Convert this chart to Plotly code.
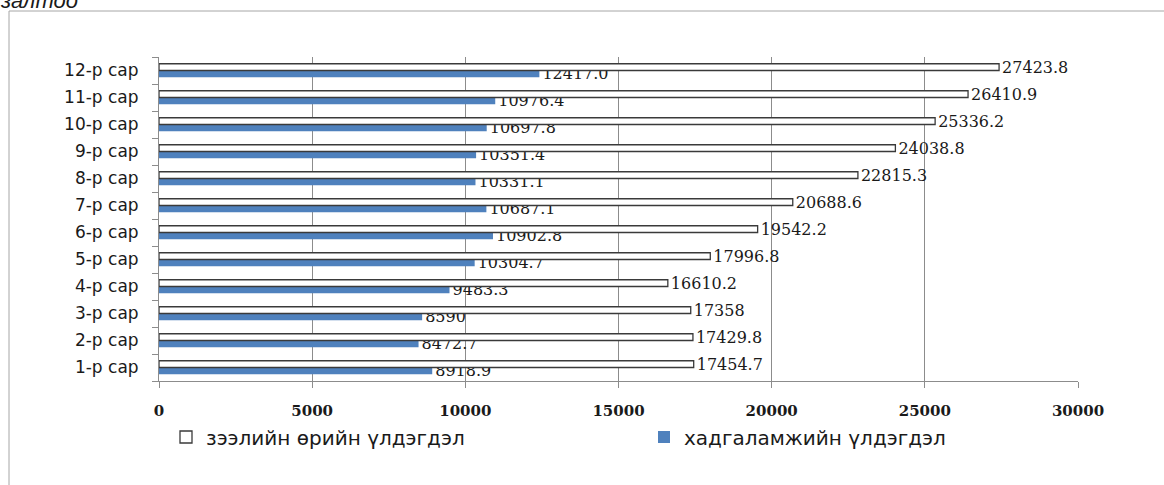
import plotly.graph_objects as go

categories = ["1-р сар", "2-р сар", "3-р сар", "4-р сар", "5-р сар", "6-р сар",
              "7-р сар", "8-р сар", "9-р сар", "10-р сар", "11-р сар", "12-р сар"]
loan_values = [17454.7, 17429.8, 17358, 16610.2, 17996.8, 19542.2,
               20688.6, 22815.3, 24038.8, 25336.2, 26410.9, 27423.8]
loan_labels = ["17454.7", "17429.8", "17358", "16610.2", "17996.8", "19542.2",
               "20688.6", "22815.3", "24038.8", "25336.2", "26410.9", "27423.8"]
saving_values = [8918.9, 8472.7, 8590, 9483.3, 10304.7, 10902.8,
                 10687.1, 10331.1, 10351.4, 10697.8, 10976.4, 12417.0]
saving_labels = ["8918.9", "8472.7", "8590", "9483.3", "10304.7", "10902.8",
                 "10687.1", "10331.1", "10351.4", "10697.8", "10976.4", "12417.0"]
x_ticks = [0, 5000, 10000, 15000, 20000, 25000, 30000]
loan_name = "зээлийн өрийн үлдэгдэл"
saving_name = "хадгаламжийн үлдэгдэл"

W, H = 1164, 485
L, R, T, B = 159, 86, 57, 104
pw = W - L - R
ph = H - T - B

def px_x(x):
    return (x - L) / pw

def px_y(y):
    return (H - B - y) / ph

num_font = dict(family="DejaVu Serif", size=16, color="#1a1a1a")
legend_font = dict(family="DejaVu Sans", size=20, color="#1a1a1a")

fig = go.Figure()
fig.add_trace(go.Bar(
    y=categories, x=saving_values, orientation="h", name=saving_name,
    marker=dict(color="#4F81BD", line=dict(width=0)),
    text=saving_labels, textposition="outside", textfont=num_font,
    cliponaxis=False, constraintext="none", textangle=0,
    legend="legend2",
))
fig.add_trace(go.Bar(
    y=categories, x=loan_values, orientation="h", name=loan_name,
    marker=dict(color="white", line=dict(color="#3a3a3a", width=1.3)),
    text=loan_labels, textposition="outside", textfont=num_font,
    cliponaxis=False, constraintext="none", textangle=0,
    legend="legend",
))

fig.update_layout(
    width=W, height=H,
    margin=dict(l=L, r=R, t=T, b=B, pad=0, autoexpand=False),
    paper_bgcolor="white", plot_bgcolor="white",
    barmode="group", bargap=0.5, bargroupgap=0.0,
    showlegend=True,
    legend=dict(
        orientation="h",
        x=px_x(166), xanchor="left", y=px_y(437), yanchor="middle",
        font=legend_font, bgcolor="rgba(0,0,0,0)",
    ),
    legend2=dict(
        orientation="h",
        x=px_x(644), xanchor="left", y=px_y(437), yanchor="middle",
        font=legend_font, bgcolor="rgba(0,0,0,0)",
    ),
    xaxis=dict(
        range=[0, 30000], tickvals=x_ticks, ticktext=[str(v) for v in x_ticks],
        showgrid=True, gridcolor="#8c8c8c", gridwidth=1,
        showline=True, linecolor="#8c8c8c", linewidth=1,
        ticks="outside", ticklen=6, tickcolor="#8c8c8c",
        ticklabelstandoff=10,
        tickfont=dict(family="DejaVu Serif", size=15, color="#1a1a1a", weight="bold"),
        zeroline=False, fixedrange=True,
    ),
    yaxis=dict(
        type="category",
        showgrid=False, showline=True, linecolor="#8c8c8c", linewidth=1,
        ticks="outside", ticklen=6, tickcolor="#8c8c8c", tickson="boundaries",
        tickfont=dict(family="DejaVu Sans", size=17, color="#1a1a1a"),
        ticklabelstandoff=16,
        zeroline=False, fixedrange=True,
    ),
    shapes=[dict(
        type="rect", xref="paper", yref="paper",
        x0=px_x(9), x1=px_x(1300), y0=px_y(600), y1=px_y(11),
        line=dict(color="#a6a6a6", width=1), fillcolor="rgba(0,0,0,0)", layer="below",
    )],
    annotations=[dict(
        text="<i>залтоо</i>", xref="paper", yref="paper",
        x=px_x(-2), xanchor="left", y=px_y(15), yanchor="bottom",
        showarrow=False, font=dict(family="Liberation Sans", size=22, color="#1a1a1a"),
    )],
)

fig.write_html(
    "out.html",
    config={"displayModeBar": False},
    post_script="document.body.style.margin='0';document.body.style.padding='0';",
)
